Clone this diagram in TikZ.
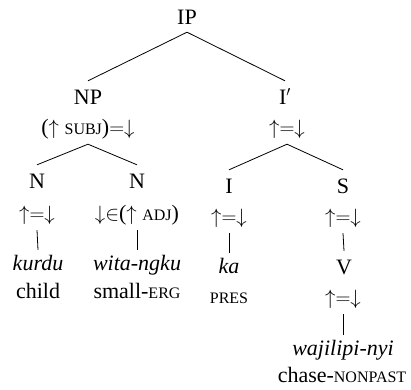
\documentclass[tikz,border=0pt]{standalone}
\usepackage{fontspec}
\setmainfont{Liberation Serif}
% reduced capitals for glosses and grammatical functions
\newcommand{\smcap}[1]{{\fontsize{16}{18}\selectfont #1}}
\newcommand{\updown}{${\uparrow}{=}{\downarrow}$}
\begin{document}
\begin{tikzpicture}[x=1pt,y=-1pt,
  every node/.style={font=\fontsize{22}{26}\selectfont, anchor=base, inner xsep=2pt},
  cat/.style={text height=15pt, text depth=0pt, inner ysep=8pt},
  ann/.style={text height=15pt, text depth=5pt, inner ysep=5pt},
  word/.style={text height=16pt, text depth=5pt, inner ysep=4pt},
  branch/.style={line width=0.8pt}]
\useasboundingbox (0,0) rectangle (411,389);

% categories
\node[cat] (IP) at (187,24) {IP};
\node[cat] (NP) at (88,104) {NP};
\node[cat] (Ibar) at (285,104) {I$'$};
\node[ann] (NPann) at (88,134) {(${\uparrow}$ \smcap{SUBJ})${=}{\downarrow}$};
\node[ann] (Ibarann) at (287,134) {\updown};

\node[cat] (N1) at (37,188) {N};
\node[cat] (N2) at (137,188) {N};
\node[cat] (I) at (229,193) {I};
\node[cat] (S) at (343,193) {S};

\node[ann] (N1ann) at (37,220) {\updown};
\node[ann] (N2ann) at (137,220) {${\downarrow}{\in}$(${\uparrow}$ \smcap{ADJ})};
\node[ann] (Iann) at (229,223) {\updown};
\node[ann] (Sann) at (343,223) {\updown};

% words and glosses
\node[word] (kurdu) at (38,270) {\textit{kurdu}};
\node (child) at (38,298) {child};
\node[word] (wita) at (137,270) {\textit{wita-ngku}};
\node (small) at (137,298) {small-\smcap{ERG}};
\node[word] (ka) at (229,273) {\textit{ka}};
\node (pres) at (229,303) {\smcap{PRES}};
\node[cat] (V) at (344,274) {V};
\node[ann] (Vann) at (343,304) {\updown};
\node[word] (waji) at (343,355) {\textit{wajilipi-nyi}};
\node (chase) at (342,382) {chase-\smcap{NONPAST}};

% branches
\draw[branch] (IP.south) -- (NP.north);
\draw[branch] (IP.south) -- (Ibar.north);
\draw[branch] (NPann.south) -- (N1.north);
\draw[branch] (NPann.south) -- (N2.north);
\draw[branch] (Ibarann.south) -- (I.north);
\draw[branch] (Ibarann.south) -- (S.north);
\draw[branch] (N1ann.south) -- (kurdu.north);
\draw[branch] (N2ann.south) -- (wita.north);
\draw[branch] (Iann.south) -- (ka.north);
\draw[branch] (Sann.south) -- (V.north);
\draw[branch] (Vann.south) -- (waji.north);
\end{tikzpicture}
\end{document}
